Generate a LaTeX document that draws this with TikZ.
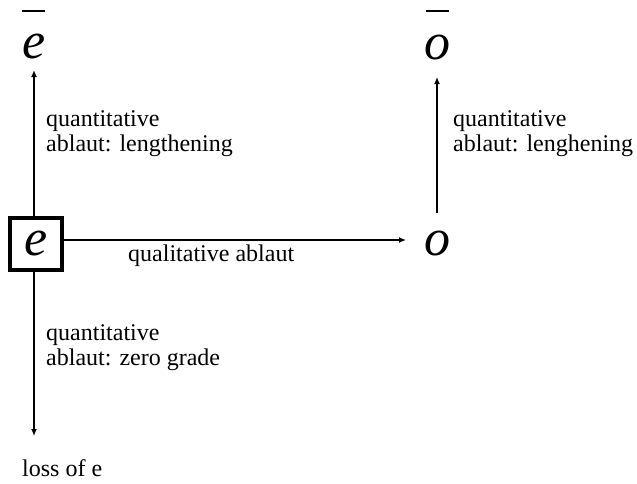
\documentclass[tikz,border=0pt]{standalone}
\usepackage{fontspec}
\setmainfont{Liberation Serif}
\usetikzlibrary{arrows.meta}
\begin{document}
\begin{tikzpicture}[x=1pt,y=-1pt,
  big/.style={font=\fontsize{52}{52}\selectfont\itshape, inner sep=0pt},
  lab/.style={font=\fontsize{24}{25}\selectfont, align=left, anchor=base west, inner sep=0pt},
  arr/.style={-{Latex[length=7pt,width=6pt]}, line width=1.3pt},
  bar/.style={line width=1.6pt}]
\useasboundingbox (0,0) rectangle (637,483);
\node[big] (ebar) at (34,46) {e};
\node[big] (obar) at (437,47) {o};
\draw[bar] (22,11) -- (45,11);
\draw[bar] (426,11) -- (449,11);
\node[big, draw, line width=4pt, minimum size=52pt, inner sep=0pt] (e) at (36,243.5) {e};
\node[big] (o) at (437,243) {o};
\coordinate (eup) at (34,70);
\coordinate (oup) at (437,77);
\coordinate (obot) at (437,213);
\coordinate (oleft) at (406,240);
\coordinate (edown) at (34,436);
\draw[arr] (e.north -| eup) -- (eup);
\draw[arr] (obot) -- (oup);
\draw[arr] (e.east |- oleft) -- (oleft);
\draw[arr] (e.south -| edown) -- (edown);
\node[lab] (l1) at (46,151) {quantitative\\ablaut: lengthening};
\node[lab] (l2) at (453,151) {quantitative\\ablaut: lenghening};
\node[lab] (l3) at (128,261) {qualitative ablaut};
\node[lab] (l4) at (46,365) {quantitative\\ablaut: zero grade};
\node[lab] (l5) at (22,476) {loss of e};
\end{tikzpicture}
\end{document}
